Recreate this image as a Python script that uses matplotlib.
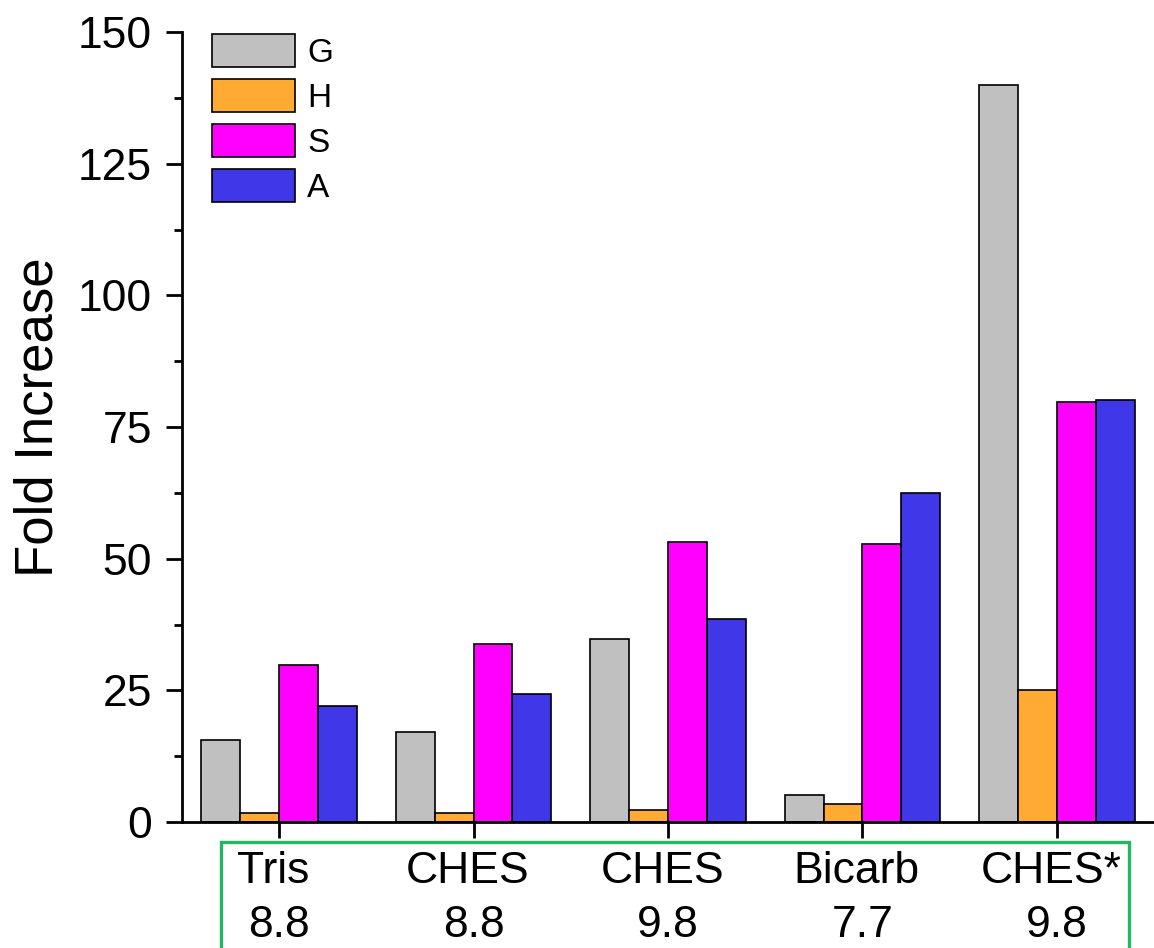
import matplotlib
matplotlib.use("Agg")
import matplotlib.pyplot as plt
import matplotlib.transforms as mtransforms
from matplotlib.patches import Rectangle
from matplotlib.ticker import MultipleLocator
import numpy as np

plt.rcParams['font.family'] = ['Liberation Sans', 'DejaVu Sans']

buffers = ["Tris", "CHES", "CHES", "Bicarb", "CHES*"]
ph_values = ["8.8", "8.8", "9.8", "7.7", "9.8"]
series_names = ["G", "H", "S", "A"]
G = [15.5, 17.0, 34.8, 5.2, 140.0]
H = [1.8, 1.7, 2.2, 3.5, 25.0]
S = [29.8, 33.8, 53.2, 52.8, 79.7]
A = [22.0, 24.4, 38.5, 62.5, 80.2]
colors = ["#c0c0c0", "#ffab33", "#ff00ff", "#3f37e8"]

fig = plt.figure(figsize=(11.54, 9.48), dpi=100)
ax = fig.add_axes([0.1577, 0.1329, 0.8423, 0.8333])

x = np.arange(len(buffers))
width = 0.2
for i, (name, vals) in enumerate(zip(series_names, [G, H, S, A])):
    ax.bar(x + (i - 1.5) * width, vals, width, color=colors[i],
           edgecolor="black", linewidth=1.2, label=name, zorder=2)

ax.set_xlim(-0.5, 4.5)
ax.set_ylim(0, 150)
ax.yaxis.set_major_locator(MultipleLocator(25))
ax.yaxis.set_minor_locator(MultipleLocator(12.5))
ax.set_xticks(x)
ax.set_xticklabels([])

for side in ["top", "right"]:
    ax.spines[side].set_visible(False)
for side in ["left", "bottom"]:
    ax.spines[side].set_linewidth(2.0)

ax.tick_params(axis="y", which="major", length=11.5, width=2.0, labelsize=32, pad=10)
ax.tick_params(axis="y", which="minor", length=6, width=2.0)
ax.tick_params(axis="x", which="major", length=11.5, width=2.0)

ax.set_ylabel("Fold Increase", fontsize=38)
ax.yaxis.set_label_coords(-0.1224, 0.513)

# two-line category labels under the axis (buffer name, then pH)
trans = mtransforms.blended_transform_factory(ax.transData, ax.transAxes)
for xi, name, ph in zip(x, buffers, ph_values):
    ax.text(xi - 0.03, -0.0772, name, transform=trans, ha="center", va="baseline", fontsize=32)
    ax.text(xi, -0.1456, ph, transform=trans, ha="center", va="baseline", fontsize=32)

box = Rectangle((0.1915, -0.05), 0.978 - 0.1915, 0.1118 + 0.05,
                transform=fig.transFigure, fill=False, edgecolor="#22b862",
                linewidth=2.4, clip_on=False)
fig.patches.append(box)

ax.legend(loc="upper left", bbox_to_anchor=(0.031, 0.997), frameon=False,
          fontsize=24, handlelength=2.5, handleheight=1.15, labelspacing=0.3,
          handletextpad=0.35, borderpad=0, borderaxespad=0)

fig.savefig("out.png", dpi=100)
